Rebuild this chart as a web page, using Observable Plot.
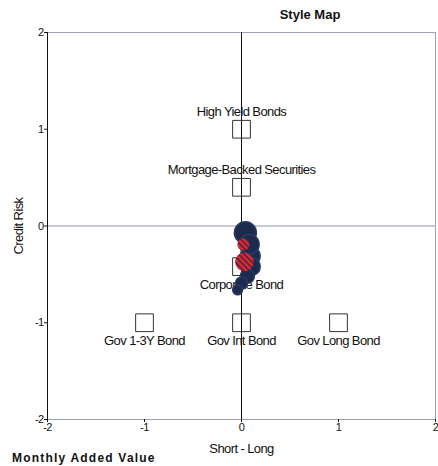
<!DOCTYPE html>
<html><head><meta charset="utf-8">
<script src="https://cdn.jsdelivr.net/npm/d3@7"></script>
<script src="https://cdn.jsdelivr.net/npm/@observablehq/plot@0.6"></script>
<style>
body{margin:0;background:#fff;font-family:"Liberation Sans",Arial,sans-serif;color:#111;}
#title{position:relative;height:26px;}
#title span{position:absolute;left:310px;top:7px;transform:translateX(-50%);font-weight:bold;font-size:13px;}
#chart svg{overflow:visible;}
#caption{margin-top:-5px;padding-left:12px;font-weight:bold;font-size:12px;line-height:14px;letter-spacing:1.2px;white-space:nowrap;}
</style></head><body>
<div id="title"><span>Style Map</span></div>
<div id="chart"></div>
<div id="caption">Monthly Added Value</div>
<script>
// Style benchmarks
const styleNames = ["High Yield Bonds","Mortgage-Backed Securities","Corporate Bond","Gov 1-3Y Bond","Gov Int Bond","Gov Long Bond"];
const styleX = [0, 0, 0, -1, 0, 1];
const styleY = [1, 0.4, -0.42, -1, -1, -1];
const styleLabelSide = ["above","above","below","below","below","below"];

// Fund track (rolling style positions), newest first
const trackX = [0.04, 0.08, 0.09, 0.10, 0.06, 0.00, -0.04];
const trackY = [-0.07, -0.19, -0.31, -0.42, -0.52, -0.59, -0.66];
const trackWeight = [1.0, 0.9, 0.9, 0.82, 0.64, 0.55, 0.45];

// Highlighted (current) positions
const highlightX = [0.02, 0.03];
const highlightY = [-0.19, -0.37];
const highlightWeight = [0.55, 0.85];

const axisTicks = [-2, -1, 0, 1, 2];

const styles = styleNames.map((name, i) => ({name, x: styleX[i], y: styleY[i], side: styleLabelSide[i]}));
const track = trackX.map((x, i) => ({x, y: trackY[i], w: trackWeight[i]})).reverse();
const highlight = highlightX.map((x, i) => ({x, y: highlightY[i], w: highlightWeight[i]}));

const svg = Plot.plot({
  width: 438,
  height: 430,
  marginLeft: 47,
  marginRight: 3,
  marginTop: 6,
  marginBottom: 37,
  style: {fontFamily: "'Liberation Sans', Arial, sans-serif", fontSize: "11px", background: "white", color: "#111"},
  x: {domain: [-2, 2]},
  y: {domain: [-2, 2]},
  r: {type: "linear", domain: [0, 1], range: [0, 11]},
  color: {type: "identity"},
  marks: [
    Plot.frame({stroke: "#9aa2b4"}),
    Plot.ruleY([0], {stroke: "#8d96aa"}),
    Plot.ruleX([0], {stroke: "#111"}),
    Plot.ruleX([-2], {stroke: "#111"}),
    Plot.axisX({ticks: axisTicks, tickFormat: d => String(d), tickSize: 3, tickPadding: 1, label: null, fontSize: 11}),
    Plot.axisY({ticks: axisTicks, tickFormat: d => String(d), tickSize: 3, tickPadding: 1, label: null, fontSize: 11}),
    Plot.axisX({ticks: [], label: "Short - Long", labelAnchor: "center", labelArrow: "none", labelOffset: 33, fontSize: 13}),
    Plot.axisY({ticks: [], label: "Credit Risk", labelAnchor: "center", labelArrow: "none", labelOffset: 34, fontSize: 13}),
    Plot.dot(styles, {x: "x", y: "y", symbol: "square", r: 10, stroke: "#333", strokeWidth: 1, fill: "none"}),
    Plot.text(styles.filter(d => d.side === "above"), {x: "x", y: "y", text: "name", dy: -17, fontSize: 13, fill: "#111"}),
    Plot.text(styles.filter(d => d.side === "below"), {x: "x", y: "y", text: "name", dy: 18, fontSize: 13, fill: "#111"}),
    Plot.dot(track, {x: "x", y: "y", r: "w", fill: "#1c2a4e", stroke: "#2a3a62"}),
    Plot.dot(highlight, {x: "x", y: "y", r: "w", fill: () => "url(#hatch)", stroke: "none"})
  ]
});
svg.insertAdjacentHTML("afterbegin",
  `<defs><pattern id="hatch" patternUnits="userSpaceOnUse" width="4" height="4" patternTransform="rotate(45)">
     <rect width="4" height="4" fill="#e8252a"></rect>
     <rect width="4" height="1.3" fill="#1c2a4e"></rect>
   </pattern></defs>`);
svg.querySelectorAll("text").forEach(t => t.style.letterSpacing = "-0.6px");
document.getElementById("chart").appendChild(svg);
</script>
</body></html>
